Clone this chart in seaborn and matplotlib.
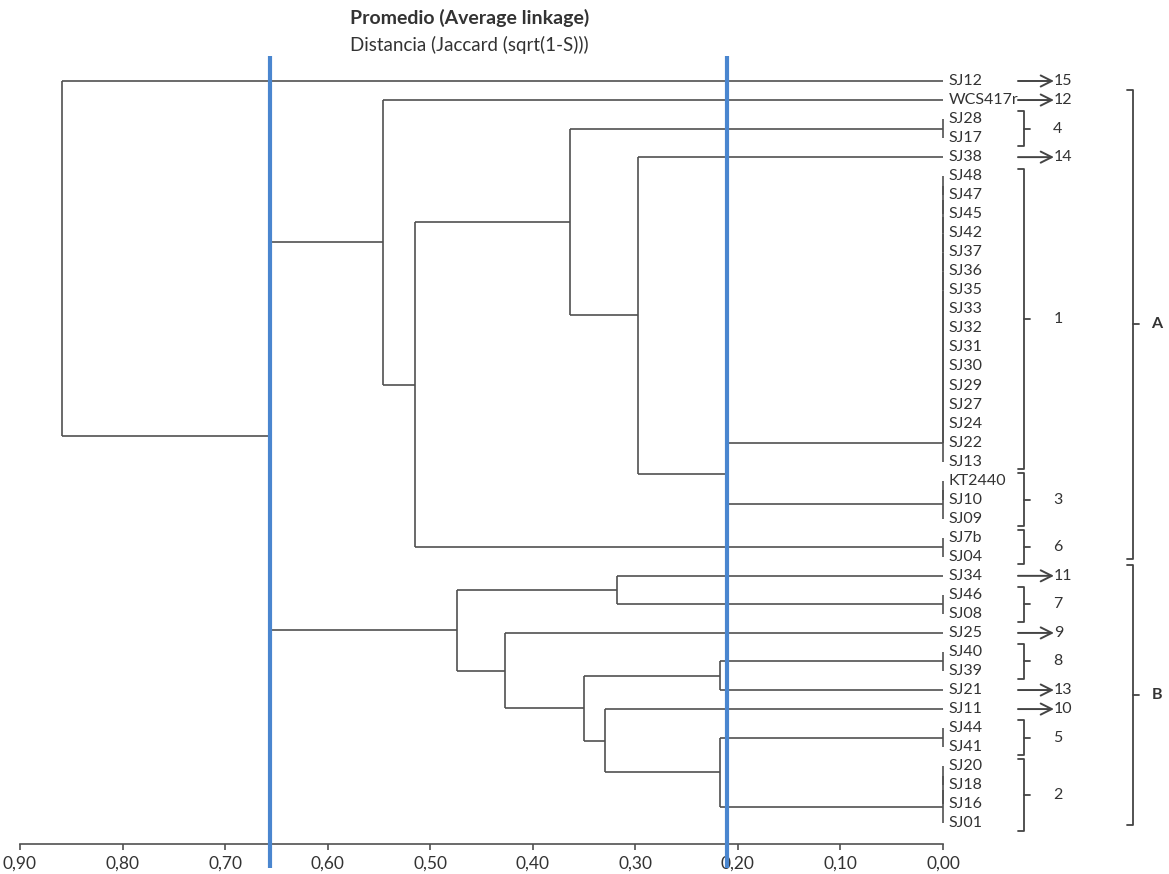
import matplotlib
matplotlib.use("Agg")
import matplotlib.pyplot as plt
import numpy as np
import seaborn as sns

# Leaf order, top to bottom
leaves = ["SJ12", "WCS417r", "SJ28", "SJ17", "SJ38", "SJ48", "SJ47", "SJ45", "SJ42",
          "SJ37", "SJ36", "SJ35", "SJ33", "SJ32", "SJ31", "SJ30", "SJ29", "SJ27",
          "SJ24", "SJ22", "SJ13", "KT2440", "SJ10", "SJ09", "SJ7b", "SJ04", "SJ34",
          "SJ46", "SJ08", "SJ25", "SJ40", "SJ39", "SJ21", "SJ11", "SJ44", "SJ41",
          "SJ20", "SJ18", "SJ16", "SJ01"]

# Groups of identical profiles (joined at distance 0)
identical_groups = {
    "g4": ["SJ28", "SJ17"],
    "g1": ["SJ48", "SJ47", "SJ45", "SJ42", "SJ37", "SJ36", "SJ35", "SJ33", "SJ32",
           "SJ31", "SJ30", "SJ29", "SJ27", "SJ24", "SJ22", "SJ13"],
    "g3": ["KT2440", "SJ10", "SJ09"],
    "g6": ["SJ7b", "SJ04"],
    "g7": ["SJ46", "SJ08"],
    "g8": ["SJ40", "SJ39"],
    "g5": ["SJ44", "SJ41"],
    "g2": ["SJ20", "SJ18", "SJ16", "SJ01"],
}

# Agglomeration steps: (child a, child b, distance, new node)
merge_a = ["g1", "SJ38", "g4", "n3", "WCS417r", "g8", "g5", "SJ11", "n5", "SJ25", "SJ34", "n10", "A", "SJ12"]
merge_b = ["g3", "n1", "n2", "g6", "n4", "SJ21", "g2", "n6", "n7", "n8", "g7", "n9", "B", "AB"]
merge_dist = [0.211, 0.297, 0.364, 0.515, 0.546, 0.217, 0.217, 0.330, 0.350, 0.427, 0.318, 0.474, 0.656, 0.859]
merge_node = ["n1", "n2", "n3", "n4", "A", "n5", "n6", "n7", "n8", "n9", "n10", "B", "AB", "root"]

# Cut levels
cut_levels = [0.656, 0.211]

# Right-hand annotations
single_labels = {"SJ12": "15", "WCS417r": "12", "SJ38": "14", "SJ34": "11",
                 "SJ25": "9", "SJ21": "13", "SJ11": "10"}
group_labels = {"g4": "4", "g1": "1", "g3": "3", "g6": "6", "g7": "7",
                "g8": "8", "g5": "5", "g2": "2"}
big_groups = {"A": ("WCS417r", "SJ04"), "B": ("SJ34", "SJ01")}

x_ticks = [0.0, 0.1, 0.2, 0.3, 0.4, 0.5, 0.6, 0.7, 0.8, 0.9]

sns.set_style("white")
plt.rcParams["font.family"] = ["Lato", "DejaVu Sans"]

LINE = "#505050"
TEXT = "#333333"
BLUE = "#4a86cf"

W, H = 1169, 874
fig = plt.figure(figsize=(W / 100, H / 100), dpi=100)
ax = fig.add_axes([0, 30 / H, 1, 844 / H])
ax.set_xlim(0.9195, -0.2204)
ax.set_ylim(40.09, -4.256)

row = {name: i for i, name in enumerate(leaves)}
pos = {name: (float(i), 0.0) for i, name in enumerate(leaves)}


def link(a, b, d, node):
    ya, ha = pos[a]
    yb, hb = pos[b]
    ax.plot([ha, d], [ya, ya], color=LINE, lw=1.2, solid_capstyle="butt")
    ax.plot([hb, d], [yb, yb], color=LINE, lw=1.2, solid_capstyle="butt")
    ax.plot([d, d], [ya, yb], color=LINE, lw=1.2, solid_capstyle="butt")
    pos[node] = ((ya + yb) / 2, d)


# Zero-distance chains
for g, members in identical_groups.items():
    cur = members[0]
    for k, m in enumerate(members[1:]):
        name = g if k == len(members) - 2 else f"{g}_{k}"
        link(cur, m, 0.0, name)
        cur = name

for a, b, d, n in zip(merge_a, merge_b, merge_dist, merge_node):
    link(a, b, d, n)

# Cut lines
for c in cut_levels:
    ax.plot([c, c], [-1.3, 41.35], color=BLUE, lw=3.0, solid_capstyle="butt",
            clip_on=False, zorder=5)

# Leaf labels
for name, i in row.items():
    ax.text(-0.0055, i, name, ha="left", va="center", fontsize=11.5, color=TEXT)


def px(xp):
    return (943 - xp) / 1025.6


# Arrows for singletons
for name, lab in single_labels.items():
    r = row[name]
    ax.annotate("", xy=(px(1054), r), xytext=(px(1018), r),
                arrowprops=dict(arrowstyle="->", color="#444444", lw=1.4,
                                mutation_scale=20, shrinkA=0, shrinkB=0))
    ax.text(px(1054), r, lab, ha="left", va="center", fontsize=11.5, color=TEXT)


def brace(y0, y1, x0, x1, x2, lw=1.3):
    ax.plot([px(x0), px(x1), px(x1), px(x0)], [y0, y0, y1, y1], color="#444444", lw=lw)
    ym = (y0 + y1) / 2
    ax.plot([px(x1), px(x2)], [ym, ym], color="#444444", lw=lw)
    return ym


for g, lab in group_labels.items():
    members = identical_groups[g]
    y0 = row[members[0]] - 0.4
    y1 = row[members[-1]] + 0.4
    ym = brace(y0, y1, 1018, 1024, 1030)
    ax.text(px(1058), ym, lab, ha="center", va="center", fontsize=11.5, color=TEXT)

for lab, (first, last) in big_groups.items():
    y0 = row[first] - 0.55
    y1 = row[last] + 0.1
    ym = brace(y0, y1, 1127, 1133, 1139)
    ax.text(px(1157), ym, lab, ha="center", va="center", fontsize=11.5,
            fontweight="bold", color=TEXT)

# Axis
sns.despine(ax=ax, left=True)
ax.spines["bottom"].set_bounds(0, 0.9)
ax.spines["bottom"].set_color(LINE)
ax.spines["bottom"].set_linewidth(1.2)
ax.set_xticks(x_ticks)
ax.set_xticklabels([f"{t:.2f}".replace(".", ",") for t in x_ticks])
ax.tick_params(axis="x", bottom=True, direction="out", length=4, width=1.2,
               color=LINE, labelsize=12.5, labelcolor=TEXT, pad=4.5)
ax.set_yticks([])

# Titles
fig.text(350 / W, 1 - 18 / H, "Promedio (Average linkage)", fontsize=14,
         fontweight="bold", color=TEXT, ha="left", va="center")
fig.text(350 / W, 1 - 45 / H, "Distancia (Jaccard (sqrt(1-S)))", fontsize=13.5,
         color=TEXT, ha="left", va="center")

fig.savefig("out.png", dpi=100)
